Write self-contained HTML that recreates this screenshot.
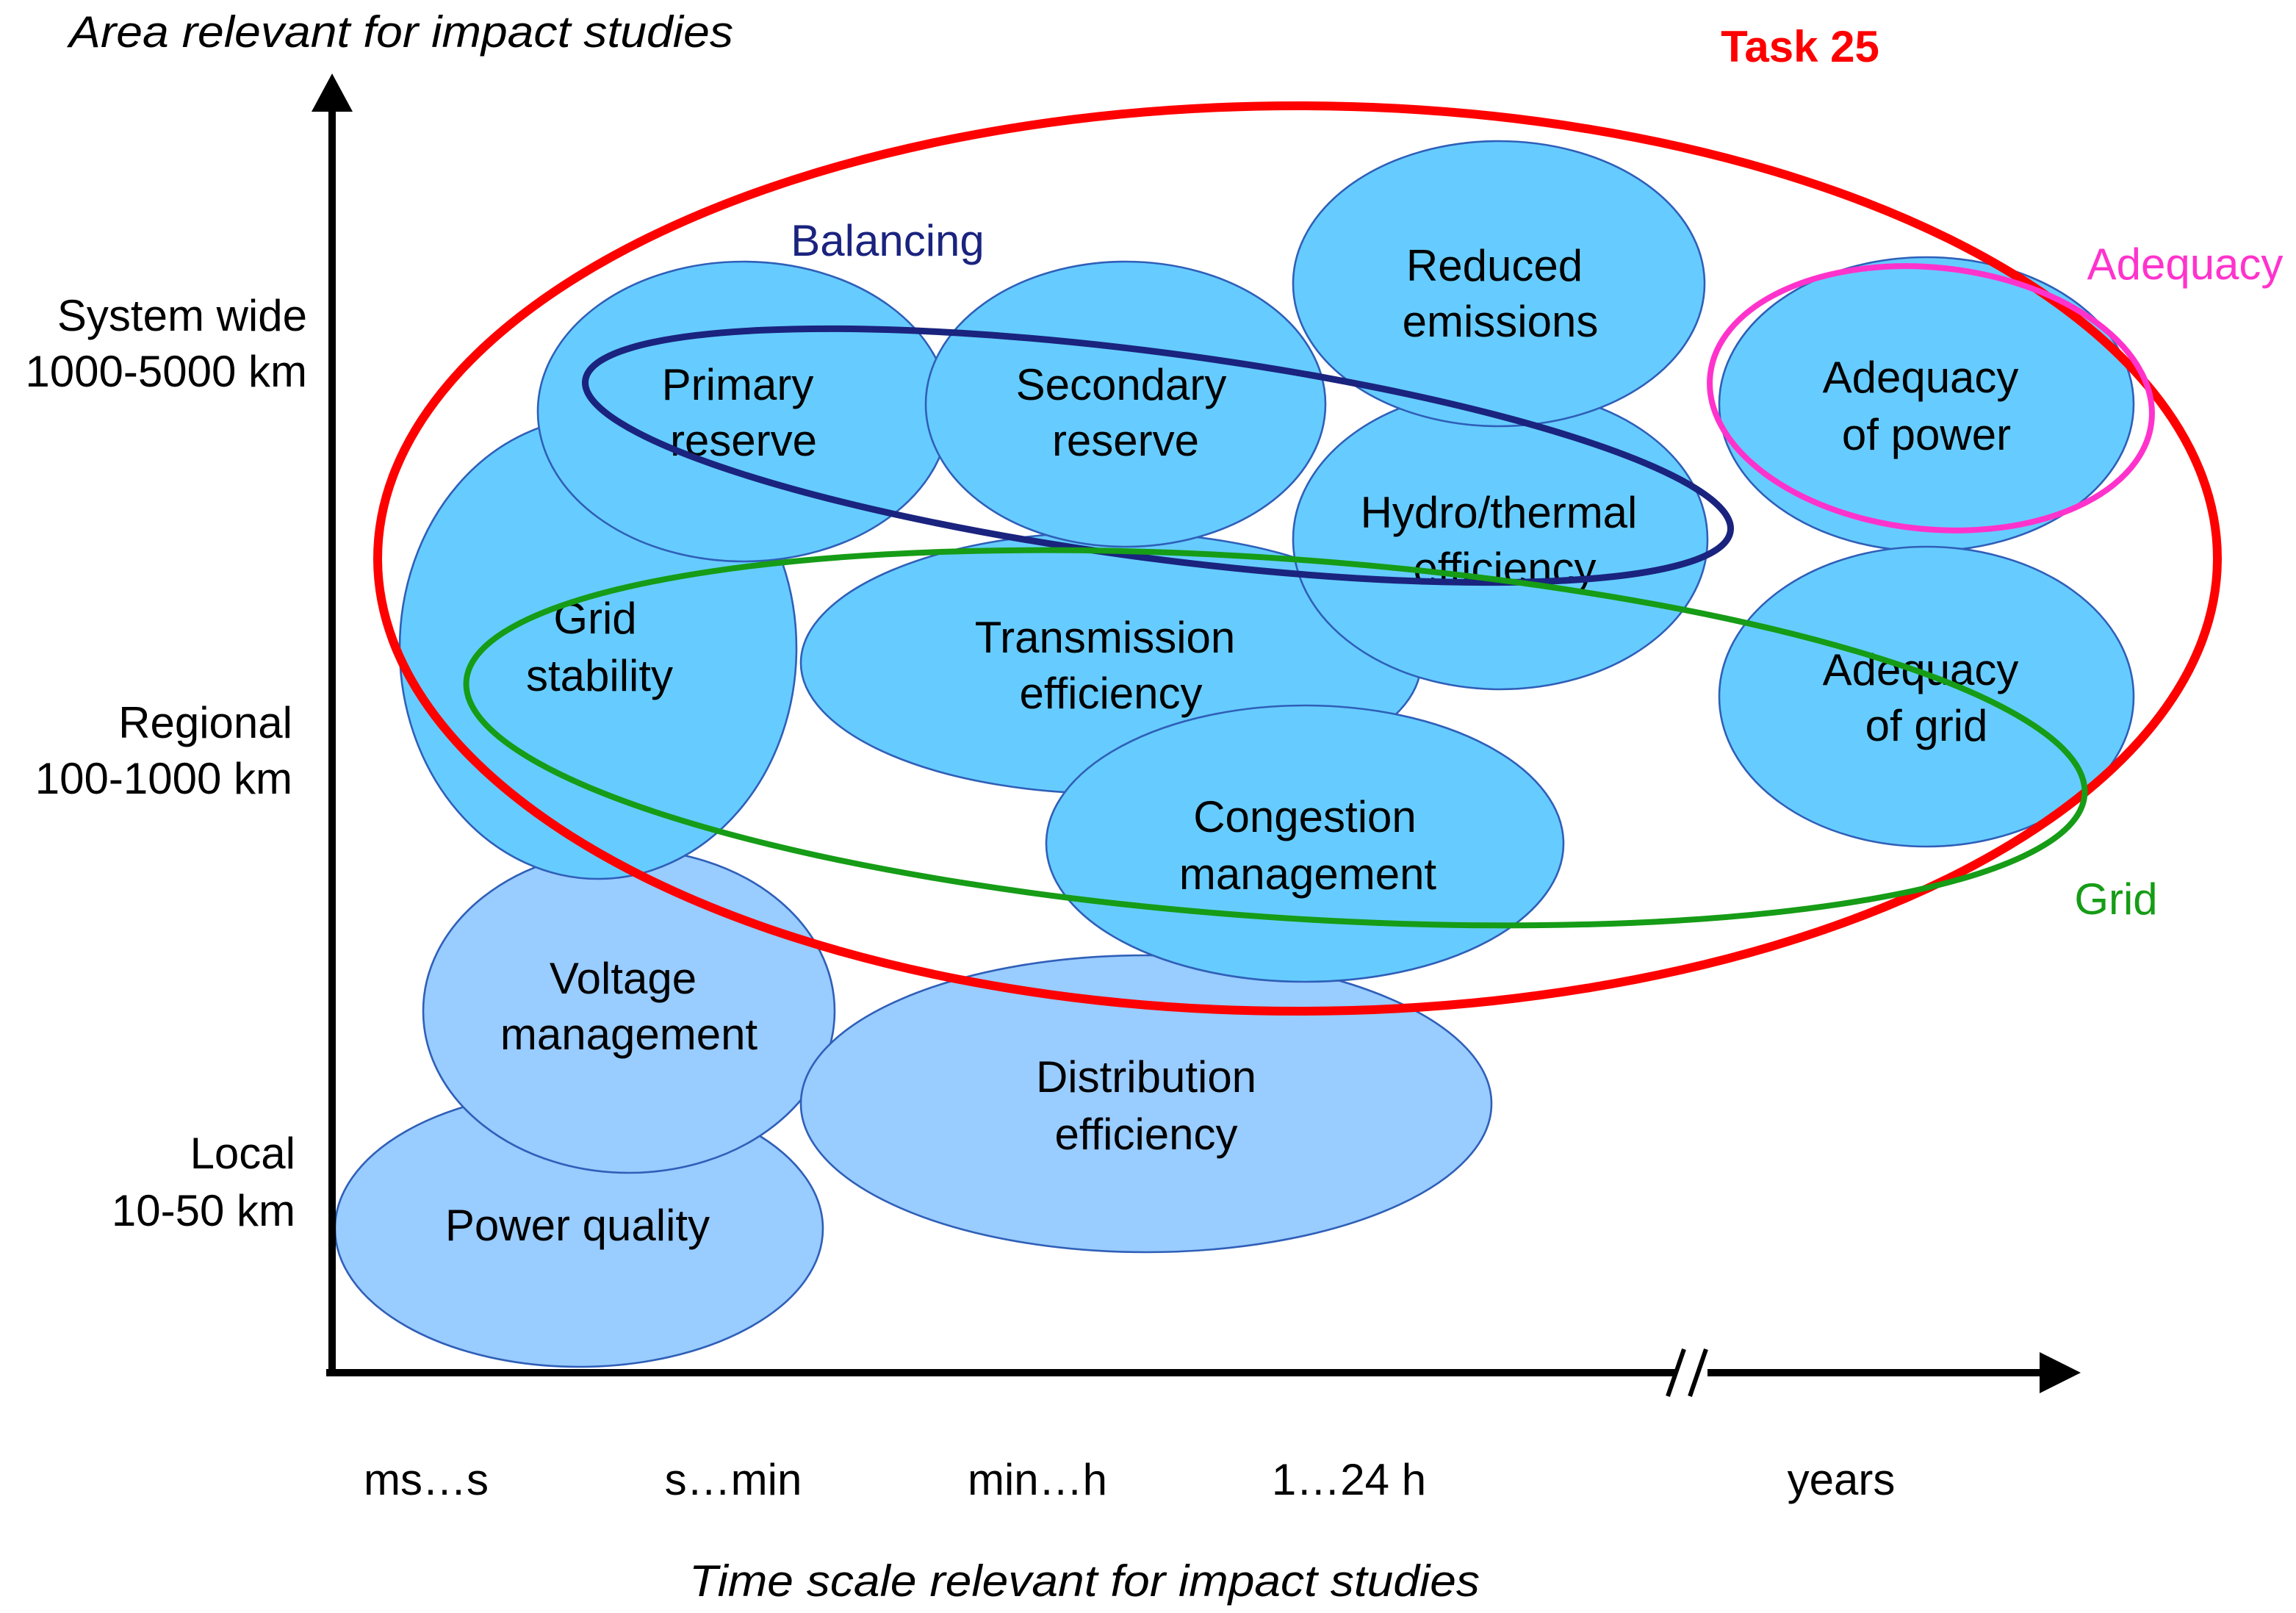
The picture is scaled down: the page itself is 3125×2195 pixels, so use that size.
<!DOCTYPE html>
<html><head><meta charset="utf-8"><style>
html,body{margin:0;padding:0;background:#fff;}
svg{display:block;}
text{font-family:"Liberation Sans",sans-serif;}
</style></head><body>
<svg width="3125" height="2195" viewBox="0 0 1562.5 1097.5" xmlns="http://www.w3.org/2000/svg">
<rect width="1562.5" height="1097.5" fill="#fff"/>
<g stroke="#2f5fb8" stroke-width="1.3">
<ellipse cx="394" cy="836" rx="166" ry="94" fill="#99ccff"/>
<ellipse cx="428" cy="688" rx="140" ry="110" fill="#99ccff"/>
<ellipse cx="780" cy="751" rx="235" ry="101" fill="#99ccff"/>
<ellipse cx="407" cy="441" rx="135" ry="157" fill="#66ccff"/>
<ellipse cx="756" cy="451" rx="211" ry="89" fill="#66ccff"/>
<ellipse cx="888" cy="574" rx="176" ry="94" fill="#66ccff"/>
<ellipse cx="506" cy="280" rx="140" ry="102" fill="#66ccff"/>
<ellipse cx="766" cy="275" rx="136" ry="97" fill="#66ccff"/>
<ellipse cx="1021" cy="367" rx="141" ry="102" fill="#66ccff"/>
<ellipse cx="1020" cy="193" rx="140" ry="97" fill="#66ccff"/>
<ellipse cx="1311" cy="275" rx="141" ry="100" fill="#66ccff"/>
<ellipse cx="1311" cy="474" rx="141" ry="102" fill="#66ccff"/>
</g>
<g font-size="30" fill="#000" text-anchor="middle">
<text x="393" y="844">Power quality</text>
<text x="424" y="676">Voltage</text>
<text x="428" y="714">management</text>
<text x="780" y="743">Distribution</text>
<text x="780" y="782">efficiency</text>
<text x="405" y="431">Grid</text>
<text x="408" y="470">stability</text>
<text x="752" y="444">Transmission</text>
<text x="756" y="482">efficiency</text>
<text x="888" y="566">Congestion</text>
<text x="890" y="605">management</text>
<text x="502" y="272">Primary</text>
<text x="506" y="310">reserve</text>
<text x="763" y="272">Secondary</text>
<text x="766" y="310">reserve</text>
<text x="1017" y="191">Reduced</text>
<text x="1021" y="229">emissions</text>
<text x="1020" y="359">Hydro/thermal</text>
<text x="1024" y="397">efficiency</text>
<text x="1307" y="267">Adequacy</text>
<text x="1311" y="306">of power</text>
<text x="1307" y="466">Adequacy</text>
<text x="1311" y="504">of grid</text>
</g>
<g fill="none">
<ellipse cx="883" cy="380" rx="626" ry="308" stroke="#ff0000" stroke-width="6"/>
<ellipse cx="788" cy="310" rx="393" ry="70" transform="rotate(7.5 788 310)" stroke="#1a237e" stroke-width="4.5"/>
<ellipse cx="868" cy="502" rx="552" ry="122" transform="rotate(4 868 502)" stroke="#169c16" stroke-width="4"/>
<ellipse cx="1314" cy="271" rx="151" ry="89" transform="rotate(6 1314 271)" stroke="#ff33cc" stroke-width="4"/>
</g>
<text x="1225" y="42" font-size="30" font-weight="bold" fill="#ff0000" text-anchor="middle">Task 25</text>
<text x="604" y="174" font-size="30" fill="#1a237e" text-anchor="middle">Balancing</text>
<text x="1487" y="190" font-size="30" fill="#ff33cc" text-anchor="middle">Adequacy</text>
<text x="1440" y="622" font-size="30" fill="#169c16" text-anchor="middle">Grid</text>
<g>
<line x1="226" y1="935" x2="226" y2="74" stroke="#000" stroke-width="5"/>
<polygon points="212,76 240,76 226,50" fill="#000"/>
</g>
<g>
<line x1="222" y1="934" x2="1140" y2="934" stroke="#000" stroke-width="5"/>
<line x1="1162" y1="934" x2="1390" y2="934" stroke="#000" stroke-width="5"/>
<polygon points="1388,920 1388,948 1416,934" fill="#000"/>
<line x1="1135" y1="950" x2="1146" y2="918" stroke="#000" stroke-width="3"/>
<line x1="1150" y1="950" x2="1161" y2="918" stroke="#000" stroke-width="3"/>
</g>
<text x="273" y="32" font-size="30" font-style="italic" text-anchor="middle" textLength="452" lengthAdjust="spacingAndGlyphs">Area relevant for impact studies</text>
<text x="738" y="1086" font-size="30" font-style="italic" text-anchor="middle" textLength="538" lengthAdjust="spacingAndGlyphs">Time scale relevant for impact studies</text>
<g font-size="30" text-anchor="end">
<text x="209" y="225">System wide</text>
<text x="209" y="263">1000-5000 km</text>
<text x="199" y="502">Regional</text>
<text x="199" y="540">100-1000 km</text>
<text x="201" y="795">Local</text>
<text x="201" y="834">10-50 km</text>
</g>
<g font-size="30" text-anchor="middle">
<text x="290" y="1017">ms…s</text>
<text x="499" y="1017">s…min</text>
<text x="706" y="1017">min…h</text>
<text x="918" y="1017">1…24 h</text>
<text x="1253" y="1017">years</text>
</g>
</svg>
</body></html>
